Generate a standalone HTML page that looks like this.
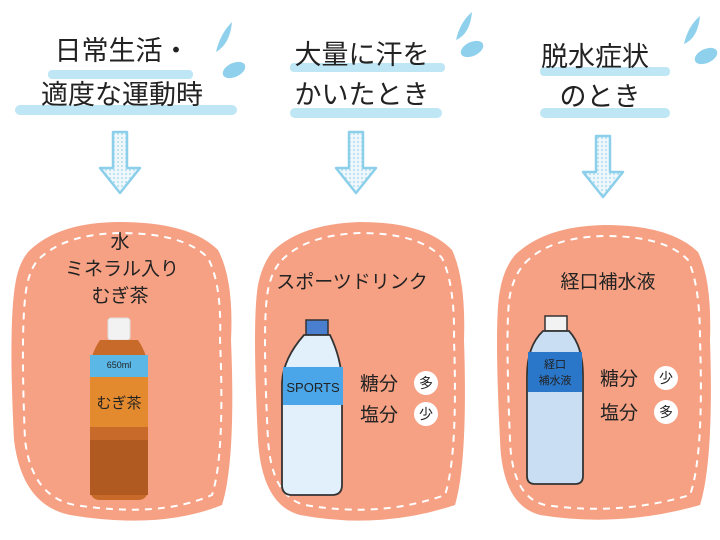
<!DOCTYPE html>
<html><head><meta charset="utf-8"><style>
html,body{margin:0;padding:0;background:#fff;}
svg{display:block;}
text{font-family:"Liberation Sans","Noto Sans CJK JP",sans-serif;fill:#222;}
</style></head><body>
<svg width="720" height="540" viewBox="0 0 720 540" xmlns="http://www.w3.org/2000/svg">
<defs>
<pattern id="dots" width="4" height="4" patternUnits="userSpaceOnUse"><rect width="4" height="4" fill="#eef8fc"/><circle cx="2" cy="2" r="0.9" fill="#9fd3ea"/></pattern>
</defs>
<g fill="#bfe6f5">
<rect x="48" y="70" width="145" height="9" rx="4"/>
<rect x="15" y="105" width="222" height="10" rx="5"/>
<rect x="290" y="63" width="155" height="9" rx="4"/>
<rect x="290" y="108" width="152" height="10" rx="5"/>
<rect x="540" y="67" width="130" height="9" rx="4"/>
<rect x="540" y="108" width="130" height="10" rx="5"/>
</g>
<g fill="#8fd0ec">
<path d="M232 22 q-12 12 -16 30 q14 -8 16 -30z"/><ellipse cx="234" cy="70" rx="12" ry="7" transform="rotate(-25 234 70)"/>
<path d="M472 12 q-12 10 -16 28 q14 -6 16 -28z"/><ellipse cx="472" cy="49" rx="12" ry="7" transform="rotate(-25 472 49)"/>
<path d="M700 16 q-12 10 -16 28 q14 -6 16 -28z"/><ellipse cx="706" cy="56" rx="12" ry="7" transform="rotate(-25 706 56)"/>
</g>
<g font-size="27" text-anchor="middle">
<text x="122" y="60">日常生活・</text>
<text x="122" y="104">適度な運動時</text>
<text x="362" y="64">大量に汗を</text>
<text x="362" y="104">かいたとき</text>
<text x="595" y="66">脱水症状</text>
<text x="600" y="106">のとき</text>
</g>
<g fill="url(#dots)" stroke="#8ccfea" stroke-width="2.5" stroke-linejoin="round">
<path d="M113 132 h14 v36 h13 l-20 25 l-20 -25 h13z"/>
<path d="M349 132 h14 v36 h13 l-20 25 l-20 -25 h13z"/>
<path d="M596 136 h14 v36 h13 l-20 25 l-20 -25 h13z"/>
</g>
<g fill="#f6a184">
<path d="M30 250 Q60 222 120 222 Q190 222 218 250 Q234 280 231 340 Q236 460 222 505 Q160 530 70 515 Q22 505 14 440 Q8 320 16 280 Q20 260 30 250z"/>
<path d="M272 252 Q300 224 360 222 Q425 222 452 250 Q466 280 464 340 Q468 460 455 505 Q380 530 300 515 Q262 505 258 440 Q252 320 258 285 Q262 265 272 252z"/>
<path d="M515 255 Q545 226 605 225 Q670 225 698 252 Q712 280 710 340 Q714 460 700 505 Q620 528 540 515 Q502 505 500 440 Q494 320 500 290 Q504 268 515 255z"/>
</g>
<g fill="none" stroke="#fff" stroke-width="2" stroke-dasharray="7 6">
<path d="M40 258 Q66 234 120 233 Q184 233 208 258 Q222 285 220 340 Q225 455 212 495 Q160 518 75 505 Q32 497 25 440 Q20 320 27 285 Q31 266 40 258z"/>
<path d="M282 260 Q306 235 360 233 Q420 233 442 258 Q455 285 454 340 Q458 455 445 495 Q380 518 305 505 Q272 497 268 440 Q262 320 268 290 Q272 270 282 260z"/>
<path d="M525 263 Q550 237 605 236 Q665 236 688 260 Q700 285 700 340 Q704 455 690 495 Q620 516 545 505 Q512 497 510 440 Q505 320 510 295 Q514 275 525 263z"/>
</g>
<g font-size="19" text-anchor="middle">
<text x="120" y="248">水</text>
<text x="122" y="275">ミネラル入り</text>
<text x="120" y="302">むぎ茶</text>
<text x="352" y="288">スポーツドリンク</text>
<text x="608" y="288">経口補水液</text>
</g>
<rect x="108" y="318" width="22" height="22" rx="3" fill="#f2f2f2" stroke="#ddd"/>
<path d="M100 340 h38 q10 15 10 30 v118 q0 12 -10 12 h-38 q-10 0 -10 -12 v-118 q0 -15 10 -30z" fill="#c76a2a"/>
<rect x="90" y="355" width="58" height="22" fill="#5ab7e6"/>
<rect x="90" y="377" width="58" height="50" fill="#e48a2e"/>
<text x="119" y="408" font-size="15" text-anchor="middle" fill="#fff">むぎ茶</text>
<text x="119" y="368" font-size="9" text-anchor="middle" fill="#d33">650ml</text>
<rect x="90" y="440" width="58" height="55" fill="#b05a22"/>
<rect x="306" y="320" width="22" height="15" fill="#4a7fd0" stroke="#333" stroke-width="1.5"/>
<path d="M304 335 h26 q12 25 12 50 v100 q0 10 -10 10 h-40 q-10 0 -10 -10 v-100 q0 -25 22 -50z" fill="#e2f0fb" stroke="#333" stroke-width="1.8"/>
<rect x="283" y="367" width="60" height="38" fill="#4aa6e8"/>
<text x="313" y="392" font-size="13" text-anchor="middle" fill="#d6efff">SPORTS</text>
<rect x="545" y="316" width="22" height="15" fill="#f2f2f2" stroke="#333" stroke-width="1.5"/>
<path d="M543 331 h26 q14 15 14 45 v100 q0 8 -8 8 h-40 q-8 0 -8 -8 v-100 q0 -30 16 -45z" fill="#c9def2" stroke="#333" stroke-width="1.8"/>
<rect x="528" y="352" width="54" height="40" fill="#2a76c8"/>
<text x="555" y="368" font-size="11" text-anchor="middle" fill="#fff">経口</text>
<text x="555" y="384" font-size="11" text-anchor="middle" fill="#fff">補水液</text>
<g font-size="19">
<text x="360" y="390">糖分</text><text x="360" y="421">塩分</text>
<text x="600" y="385">糖分</text><text x="600" y="419">塩分</text>
</g>
<g fill="#fff"><circle cx="426" cy="383" r="12"/><circle cx="426" cy="414" r="12"/><circle cx="666" cy="378" r="12"/><circle cx="666" cy="412" r="12"/></g>
<g font-size="14" text-anchor="middle">
<text x="426" y="388">多</text><text x="426" y="419">少</text><text x="666" y="383">少</text><text x="666" y="417">多</text>
</g>
</svg>
</body></html>
